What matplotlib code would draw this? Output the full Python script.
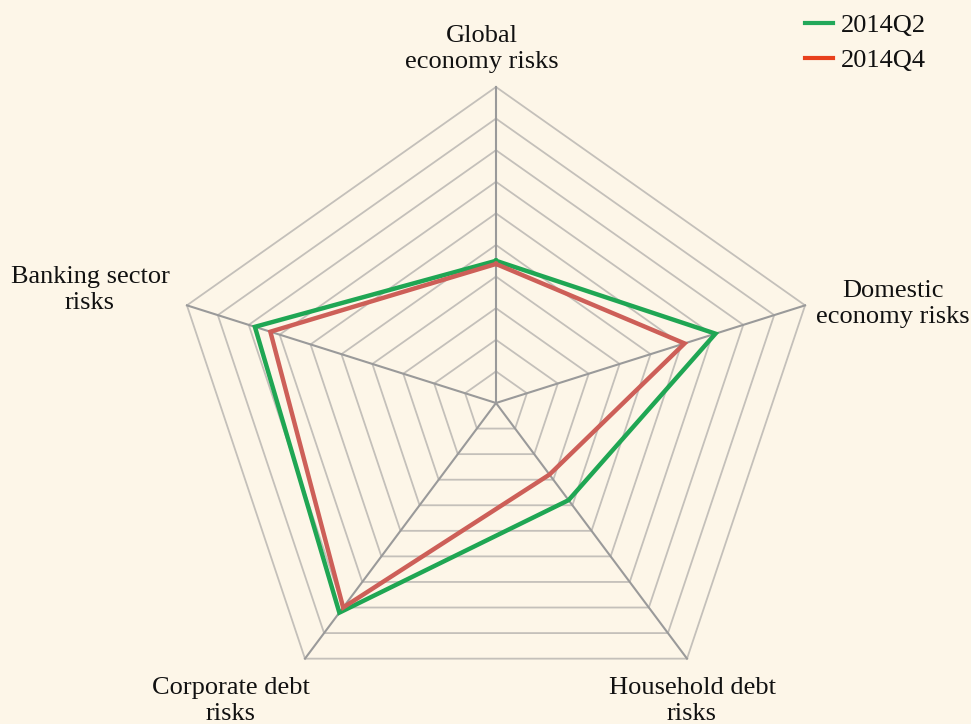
import numpy as np
import matplotlib
matplotlib.use("Agg")
import matplotlib.pyplot as plt
from matplotlib.lines import Line2D

categories = ["Global\neconomy risks", "Domestic\neconomy risks", "Household debt\nrisks",
              "Corporate debt\nrisks", "Banking sector\nrisks"]
series_names = ["2014Q2", "2014Q4"]
q2_values = [4.5, 7.1, 3.8, 8.2, 7.8]
q4_values = [4.4, 6.1, 2.8, 8.0, 7.3]
ring_levels = list(range(1, 11))

W, H = 971, 724
fig = plt.figure(figsize=(W / 100, H / 100), dpi=100)
bg = "#fdf6e8"
fig.patch.set_facecolor(bg)
ax = fig.add_axes([0, 0, 1, 1])
ax.set_facecolor(bg)
ax.axis("off")

cx, cy = 496, 403
sx, sy = 32.5, 31.6
ax.set_xlim(-cx / sx, (W - cx) / sx)
ax.set_ylim((cy - H) / sy, cy / sy)

n = len(categories)
angles = np.deg2rad(90 - 72 * np.arange(n))

# rings
for r in ring_levels:
    xs = r * np.cos(np.append(angles, angles[0]))
    ys = r * np.sin(np.append(angles, angles[0]))
    ax.plot(xs, ys, color="#c4c0ba", lw=1.3, zorder=1)
# spokes
for a in angles:
    ax.plot([0, 10 * np.cos(a)], [0, 10 * np.sin(a)], color="#9a9a9a", lw=1.5, zorder=2)

def draw(vals, color):
    v = np.array(vals + vals[:1])
    a = np.append(angles, angles[0])
    ax.plot(v * np.cos(a), v * np.sin(a), color=color, lw=3.2, zorder=3,
            solid_joinstyle="miter")

draw(q2_values, "#1fa653")
draw(q4_values, "#cd5f58")

font = "Liberation Serif"
fs = 19
label_pos = [(482, 49), (893, 304), (692, 701), (231, 701), (90, 290)]
for lab, (px, py) in zip(categories, label_pos):
    fig.text(px / W, 1 - py / H, lab, ha="center", va="center", fontsize=fs,
             family=font, linespacing=1.22, color="#111111")

handles = [Line2D([], [], color="#22a85a", lw=3), Line2D([], [], color="#e8401c", lw=3)]
leg = fig.legend(handles, series_names, loc="upper left",
                 bbox_to_anchor=(797 / W, 1 - 6 / H),
                 frameon=False, prop={"family": font, "size": fs}, handlelength=1.05,
                 handletextpad=0.3, labelspacing=0.42, borderaxespad=0.0,
                 borderpad=0.3)
for t in leg.get_texts():
    t.set_color("#111111")

fig.savefig("out.png", dpi=100, facecolor=bg)
